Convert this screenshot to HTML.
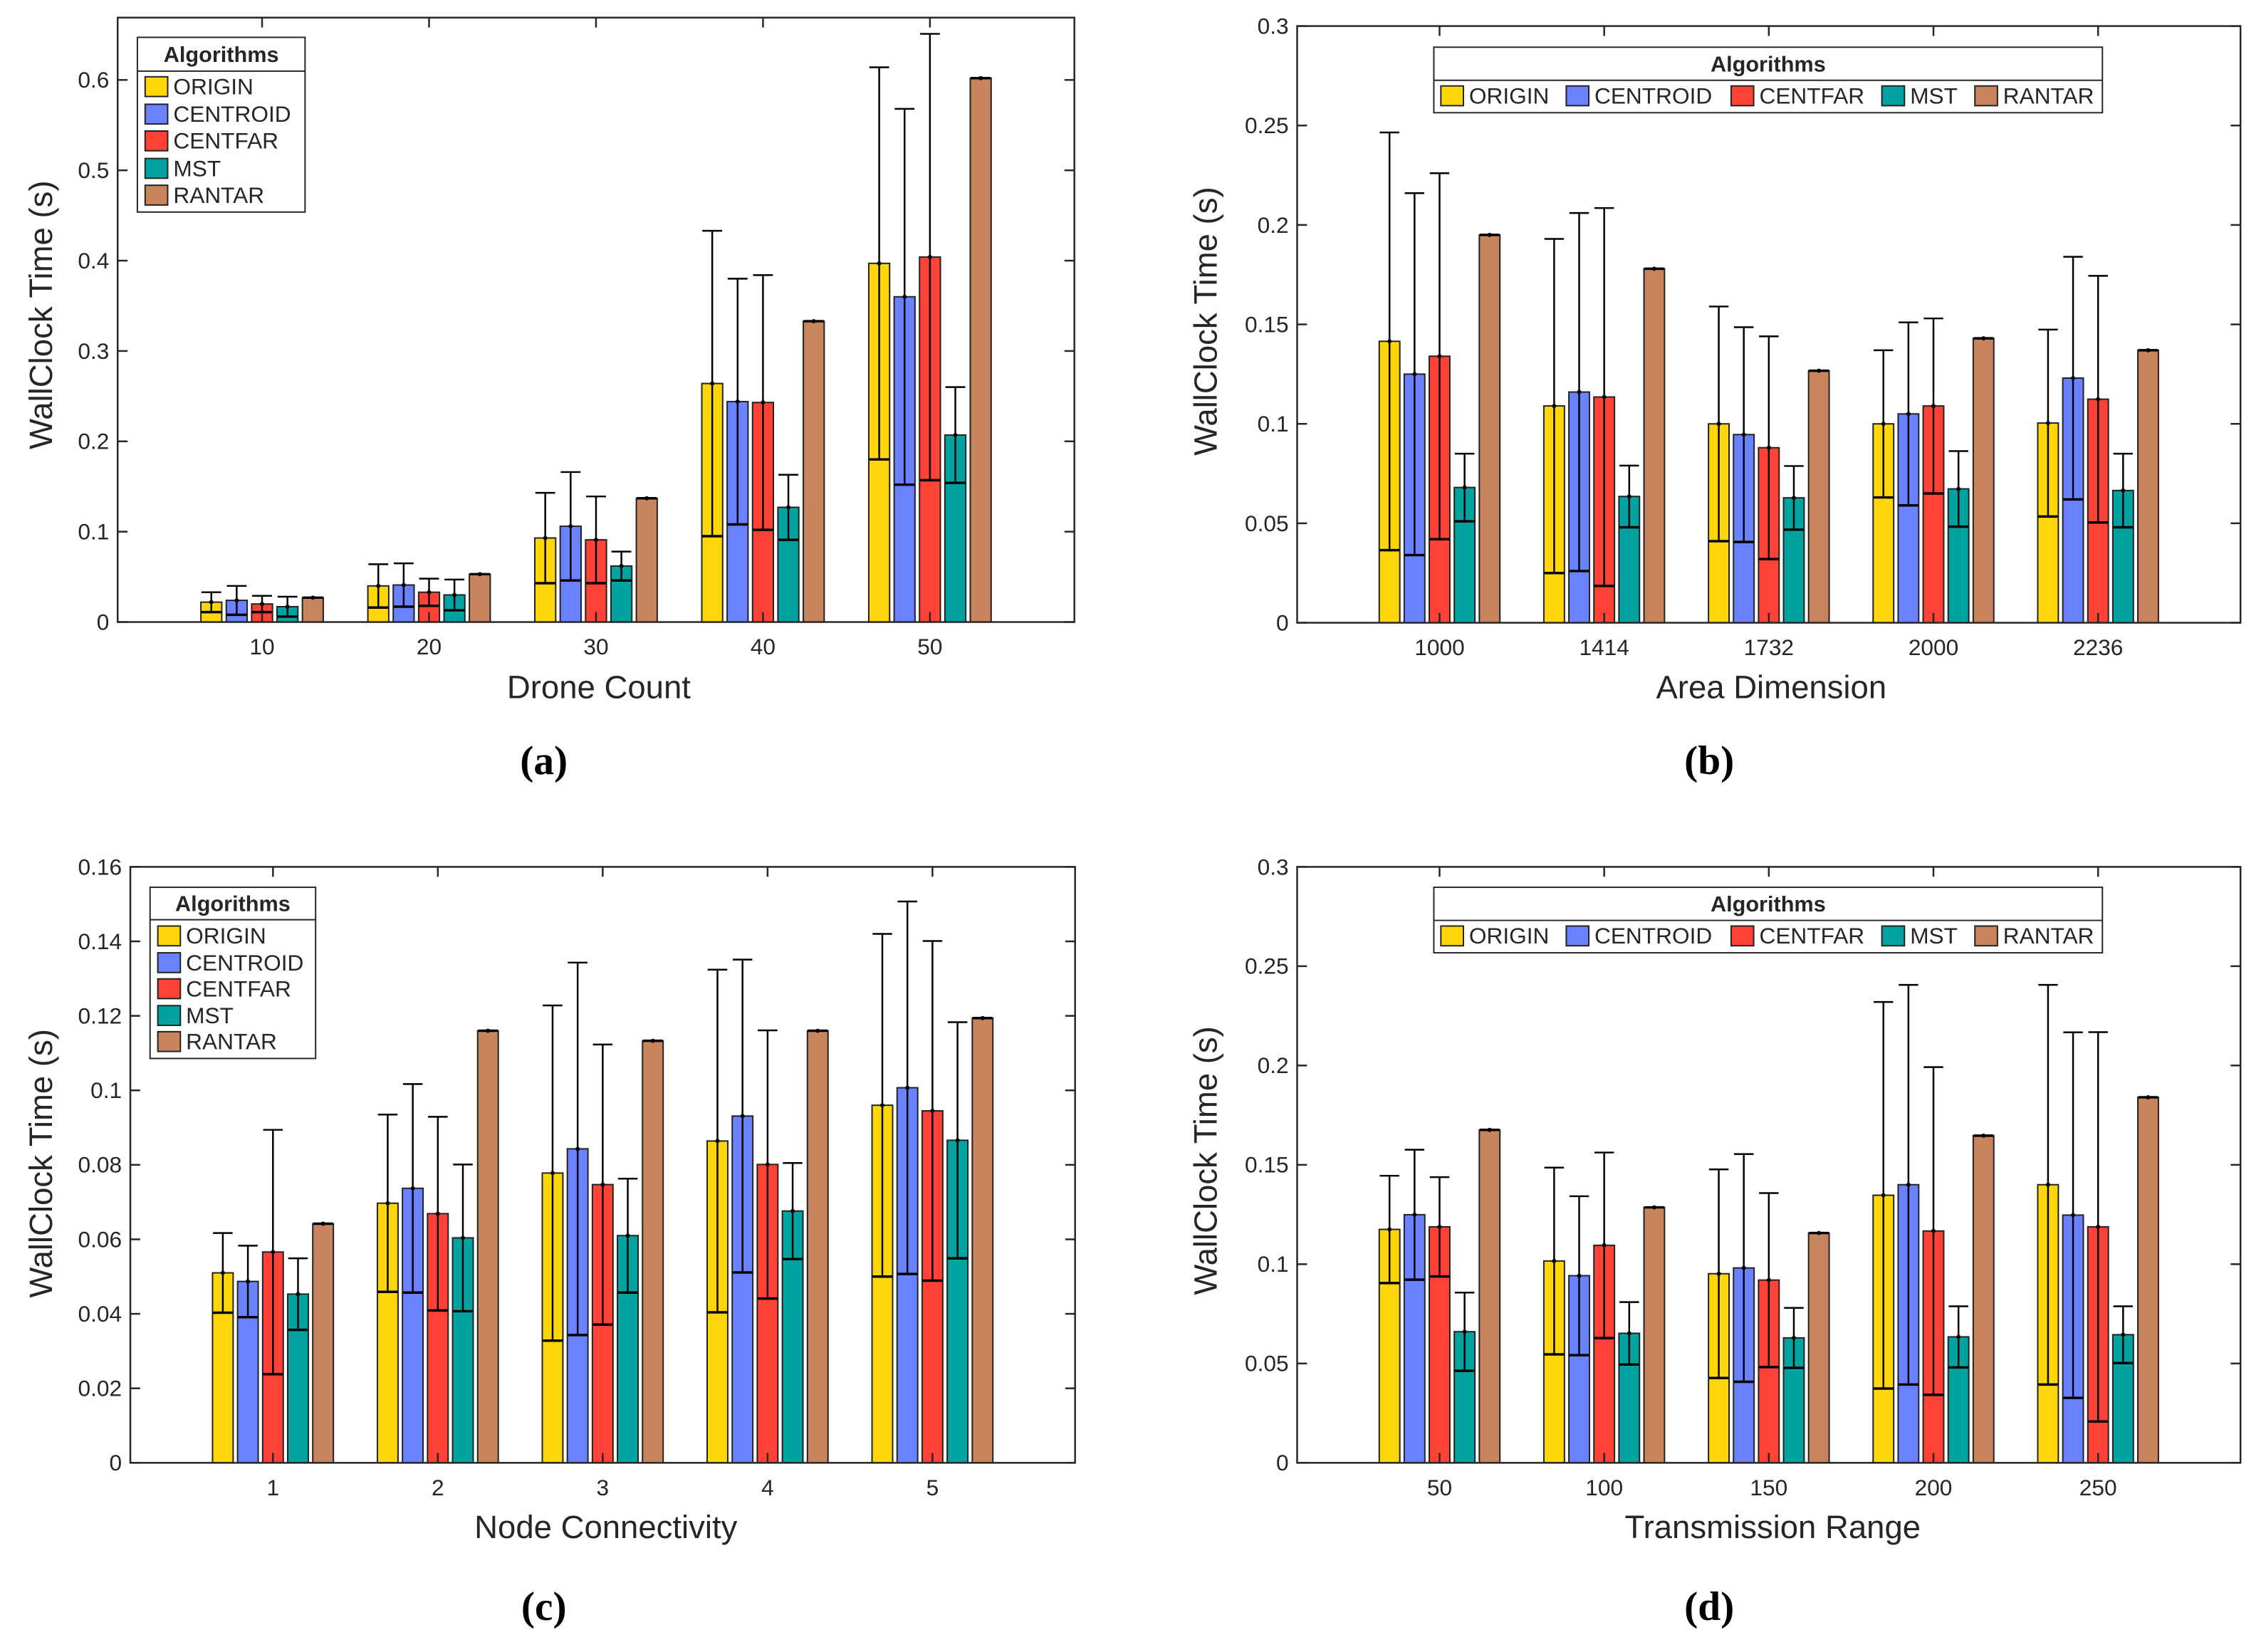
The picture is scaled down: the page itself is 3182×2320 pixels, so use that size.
<!DOCTYPE html>
<html><head><meta charset="utf-8"><style>
html,body{margin:0;padding:0;background:#fff;}
svg{display:block;}
</style></head><body>
<svg id="fig" width="3182" height="2320" viewBox="0 0 3182 2320" xmlns="http://www.w3.org/2000/svg"></svg>
<script>
const algorithms = ["ORIGIN","CENTROID","CENTFAR","MST","RANTAR"];
const colors = ["#FFD60A","#6A82FF","#FF4136","#00A39F","#C8845C"];

const catsA = ["10","20","30","40","50"];
const meanA = [[.022,.040,.093,.264,.397],[.024,.041,.106,.244,.360],[.020,.033,.091,.243,.404],[.017,.030,.062,.127,.207],[.027,.053,.137,.333,.602]];
const errA  = [[.011,.024,.050,.169,.217],[.016,.024,.060,.136,.208],[.009,.015,.048,.141,.247],[.011,.017,.016,.036,.053],[0,0,0,0,0]];
const ticksA = [0,0.1,0.2,0.3,0.4,0.5,0.6];
const tickLabA = ["0","0.1","0.2","0.3","0.4","0.5","0.6"];

const catsB = ["1000","1414","1732","2000","2236"];
const meanB = [[.1415,.109,.100,.100,.1004],[.125,.116,.0946,.105,.123],[.134,.1135,.088,.109,.1124],[.068,.0635,.0628,.0673,.0665],[.195,.178,.1267,.143,.137]];
const errB  = [[.105,.084,.059,.037,.047],[.091,.090,.054,.046,.061],[.092,.095,.056,.044,.062],[.017,.0155,.016,.019,.0185],[0,0,0,0,0]];
const ticksB = [0,0.05,0.1,0.15,0.2,0.25,0.3];
const tickLabB = ["0","0.05","0.1","0.15","0.2","0.25","0.3"];

const catsC = ["1","2","3","4","5"];
const meanC = [[.051,.0697,.0778,.0864,.096],[.0487,.0737,.0843,.0931,.1007],[.0566,.0669,.0747,.0801,.0945],[.0453,.0604,.061,.0676,.0866],[.0642,.116,.1133,.116,.1194]];
const errC  = [[.0107,.0238,.045,.046,.046],[.0096,.028,.050,.042,.050],[.0328,.026,.0376,.036,.0456],[.0096,.0197,.0153,.0129,.0317],[0,0,0,0,0]];
const ticksC = [0,0.02,0.04,0.06,0.08,0.1,0.12,0.14,0.16];
const tickLabC = ["0","0.02","0.04","0.06","0.08","0.1","0.12","0.14","0.16"];

const catsD = ["50","100","150","200","250"];
const meanD = [[.1175,.1016,.0952,.1347,.140],[.1249,.0942,.0981,.140,.1247],[.1188,.1095,.092,.1167,.1188],[.066,.0652,.0629,.0634,.0645],[.1676,.1286,.1157,.1647,.184]];
const errD  = [[.027,.047,.0525,.0973,.1006],[.0327,.040,.0573,.1006,.092],[.025,.0467,.0438,.0825,.098],[.0197,.0157,.0151,.0154,.0143],[0,0,0,0,0]];
const ticksD = ticksB;
const tickLabD = tickLabB;

const NS="http://www.w3.org/2000/svg";
const svg=document.getElementById('fig');
function mk(tag,attrs,parent,text){const e=document.createElementNS(NS,tag);for(const k in attrs)e.setAttribute(k,attrs[k]);if(text!==undefined)e.textContent=text;(parent||svg).appendChild(e);return e;}
const NARROW='"Liberation Sans Narrow","Liberation Sans",sans-serif';
const SC=0.9893;

function panel(p){
  const g=mk('g',{transform:`translate(${p.ox},${p.oy}) scale(${SC}) translate(${-p.ox},${-p.oy})`});
  
  
  const x=v=>p.L+(v-p.xmin)/(p.xmax-p.xmin)*(p.R-p.L);
  const y=v=>p.B-(v/p.ymax)*(p.B-p.T);
  for(let s=0;s<5;s++){
    for(let c=0;c<5;c++){
      const cx=x(c+1+(s-2)*0.152), hw=0.0625*(p.R-p.L)/(p.xmax-p.xmin);
      const m=p.mean[s][c], e=p.err[s][c];
      const r=mk('rect',{x:cx-hw,y:y(m),width:2*hw,height:p.B-y(m),fill:colors[s],stroke:'#222','stroke-width':2},g);
      
      
      const eg=mk('g',{stroke:'#000','stroke-width':2.5},g);
      
      
      const lo=Math.max(0,m-e), hi=m+e, cw=hw*0.95;
      mk('line',{x1:cx,x2:cx,y1:y(lo),y2:y(hi)},eg);
      mk('line',{x1:cx-cw,x2:cx+cw,y1:y(lo),y2:y(lo),'stroke-width':3.5},eg);
      mk('line',{x1:cx-cw,x2:cx+cw,y1:y(hi),y2:y(hi)},eg);
      mk('circle',{cx:cx,cy:y(m),r:3,fill:'#000',stroke:'none'},eg);
    }
  }
  const ax=mk('rect',{x:p.L,y:p.T,width:p.R-p.L,height:p.B-p.T,fill:'none',stroke:'#262626','stroke-width':2.5},g);
  
  
  p.ticks.forEach((t,i)=>{
    const yy=y(t);
    mk('line',{x1:p.L,x2:p.L+14,y1:yy,y2:yy,stroke:'#262626','stroke-width':2.5},g);
    mk('line',{x1:p.R,x2:p.R-14,y1:yy,y2:yy,stroke:'#262626','stroke-width':2.5},g);
    const tl=mk('text',{x:p.L-12,y:yy+11,'text-anchor':'end','font-family':NARROW,'font-size':32,fill:'#262626'},g,p.tickLab[i]);
    
    
  });
  p.cats.forEach((c,i)=>{
    const xx=x(i+1);
    mk('line',{x1:xx,x2:xx,y1:p.B,y2:p.B-14,stroke:'#262626','stroke-width':2.5},g);
    mk('line',{x1:xx,x2:xx,y1:p.T,y2:p.T+14,stroke:'#262626','stroke-width':2.5},g);
    const tl=mk('text',{x:xx,y:p.B+46,'text-anchor':'middle','font-family':NARROW,'font-size':32,fill:'#262626'},g,c);
    
    
  });
  const xl=mk('text',{x:p.xlx,y:p.xly+16,'text-anchor':'middle','font-family':NARROW,'font-size':46,fill:'#262626'},g,p.xlabel);
  
  
  const yl=mk('text',{x:0,y:0,transform:`translate(${p.ylx+16},${p.yly}) rotate(-90)`,'text-anchor':'middle','font-family':'"Liberation Sans",sans-serif','font-size':46,fill:'#262626'},g,'WallClock Time (s)');
  
  
  const pl=mk('text',{x:p.plx,y:p.ply+18,'text-anchor':'middle','font-family':'"Liberation Serif",serif','font-size':58,'font-weight':'bold',fill:'#000'},g,'('+p.id+')');
  
  
  const lg=mk('g',{},g);
  
  
  const l=p.leg;
  mk('rect',{x:l.x1,y:l.y1,width:l.x2-l.x1,height:l.y2-l.y1,fill:'#fff',stroke:'#262626','stroke-width':2},lg);
  mk('line',{x1:l.x1,x2:l.x2,y1:l.div,y2:l.div,stroke:'#262626','stroke-width':2},lg);
  const tt=mk('text',{x:(l.x1+l.x2)/2,y:(l.y1+l.div)/2+11,'text-anchor':'middle','font-family':NARROW,'font-size':31,'font-weight':'bold',fill:'#262626'},lg,'Algorithms');
  
  
  for(let s=0;s<5;s++){
    const e=mk('g',{},lg);
    
    
    const sx=l.sw[s], sy=l.ey[s];
    mk('rect',{x:sx,y:sy-14,width:32,height:28,fill:colors[s],stroke:'#222','stroke-width':2},e);
    mk('text',{x:sx+40,y:sy+11,'font-family':NARROW,'font-size':32,fill:'#262626'},e,algorithms[s]);
  }
}
const base={xmin:0.135,xmax:5.865};
const vLeg=(x1,x2,y1,div,y2,ey)=>({x1,x2,y1,div,y2,sw:[x1+11,x1+11,x1+11,x1+11,x1+11],ey});
const hLeg=(y1,div,y2,row)=>({x1:2018,x2:2967,y1,div,y2,sw:[2028,2206,2440,2654,2786],ey:[row,row,row,row,row]});
panel(Object.assign({},base,{id:'a',ox:0,oy:0,L:167,R:1525,T:25,B:883,ymax:0.669,cats:catsA,mean:meanA,err:errA,ticks:ticksA,tickLab:tickLabA,
  xlabel:'Drone Count',xlx:850,xly:975,ylx:58,yly:447,plx:772,ply:1081,
  leg:vLeg(195,433,53,101,301,[123,162,200,239,277])}));
panel(Object.assign({},base,{id:'b',ox:1591,oy:0,L:1824,R:3163,T:37,B:884,ymax:0.3,cats:catsB,mean:meanB,err:errB,ticks:ticksB,tickLab:tickLabB,
  xlabel:'Area Dimension',xlx:2497,xly:975,ylx:1694,yly:456,plx:2409,ply:1081,
  leg:hLeg(67,114,160,136)}));
panel(Object.assign({},base,{id:'c',ox:0,oy:1160,L:185,R:1526,T:1218,B:2064,ymax:0.16,cats:catsC,mean:meanC,err:errC,ticks:ticksC,tickLab:tickLabC,
  xlabel:'Node Connectivity',xlx:860,xly:2155,ylx:58,yly:1639,plx:772,ply:2269,
  leg:vLeg(213,448,1247,1293,1490,[1316,1354,1391,1429,1466])}));
panel(Object.assign({},base,{id:'d',ox:1591,oy:1160,L:1824,R:3163,T:1218,B:2064,ymax:0.3,cats:catsD,mean:meanD,err:errD,ticks:ticksD,tickLab:tickLabD,
  xlabel:'Transmission Range',xlx:2499,xly:2155,ylx:1694,yly:1635,plx:2409,ply:2269,
  leg:hLeg(1247,1294,1340,1316)}));
</script>
</body></html>
